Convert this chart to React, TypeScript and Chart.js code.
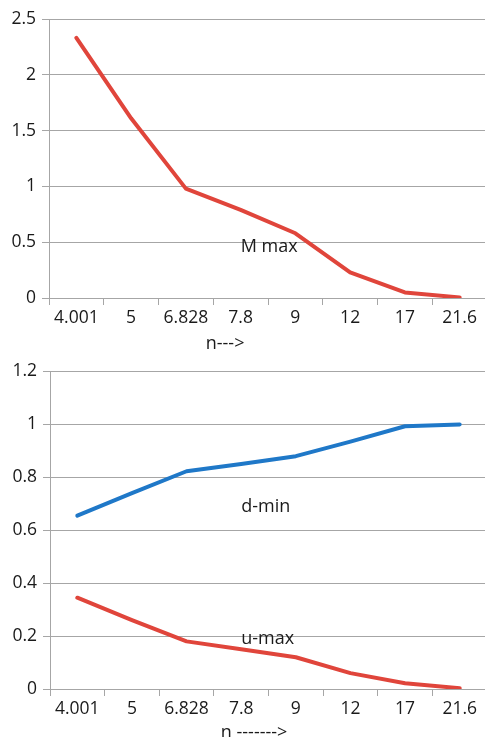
import React, { useEffect, useRef } from "react";
import { Chart, registerables } from "chart.js";

Chart.register(...registerables);

const categories = ["4.001", "5", "6.828", "7.8", "9", "12", "17", "21.6"];
const mMax = [2.33, 1.61, 0.98, 0.79, 0.58, 0.23, 0.05, 0.005];
const dMin = [0.655, 0.74, 0.823, 0.85, 0.88, 0.935, 0.993, 1.0];
const uMax = [0.345, 0.26, 0.18, 0.15, 0.12, 0.06, 0.022, 0.003];
const topTicks = [0, 0.5, 1, 1.5, 2, 2.5];
const bottomTicks = [0, 0.2, 0.4, 0.6, 0.8, 1, 1.2];

const FONT = '"Open Sans", "DejaVu Sans", sans-serif';
const GRID = "#a6a6a6";
const TEXT = "#1a1a1a";
const RED = "#e0453b";
const BLUE = "#1f78c8";

type Note = { text: string; xi: number; yv: number };
type Title = { text: string; frac: number; dy: number };

function textPlugin(notes: Note[], title: Title) {
  return {
    id: "texts",
    afterDraw(chart: any) {
      const { ctx, chartArea } = chart;
      const x = chart.scales.x;
      const y = chart.scales.y;
      ctx.save();
      ctx.font = `18px ${FONT}`;
      ctx.fillStyle = TEXT;
      ctx.textBaseline = "middle";
      ctx.textAlign = "left";
      notes.forEach((n) => {
        ctx.fillText(n.text, x.getPixelForValue(n.xi), y.getPixelForValue(n.yv));
      });
      ctx.textAlign = "center";
      ctx.fillText(
        title.text,
        chartArea.left + title.frac * (chartArea.right - chartArea.left),
        chartArea.bottom + title.dy
      );
      ctx.restore();
    },
  };
}

function makeOptions(ticks: number[], yWidth: number, xHeight: number, padTop: number, padRight: number) {
  return {
    responsive: false,
    animation: false as const,
    layout: { padding: { top: padTop, right: padRight, left: 0, bottom: 0 } },
    plugins: { legend: { display: false }, tooltip: { enabled: false }, title: { display: false } },
    scales: {
      x: {
        type: "category" as const,
        offset: true,
        grid: { offset: true, drawOnChartArea: false, drawTicks: true, tickLength: 7, color: GRID },
        border: { display: true, color: GRID },
        ticks: { color: TEXT, font: { family: FONT, size: 17.5 }, padding: 3, maxRotation: 0, autoSkip: false },
        afterFit: (s: any) => {
          s.height = xHeight;
        },
      },
      y: {
        min: ticks[0],
        max: ticks[ticks.length - 1],
        grid: { color: GRID, tickLength: 7, drawTicks: true },
        border: { display: true, color: GRID },
        ticks: {
          stepSize: ticks[1] - ticks[0],
          color: TEXT,
          font: { family: FONT, size: 17.5 },
          padding: 6,
          callback: (v: any) => String(Number(Number(v).toFixed(3))),
        },
        afterFit: (s: any) => {
          s.width = yWidth;
        },
      },
    },
  };
}

function ds(data: number[], color: string) {
  return {
    data,
    borderColor: color,
    backgroundColor: color,
    borderWidth: 4,
    pointRadius: 0,
    tension: 0,
    borderCapStyle: "round" as const,
    borderJoinStyle: "round" as const,
  };
}

export default function App() {
  const topRef = useRef<HTMLCanvasElement>(null);
  const botRef = useRef<HTMLCanvasElement>(null);

  useEffect(() => {
    const c1 = new Chart(topRef.current!, {
      type: "line",
      data: { labels: categories, datasets: [ds(mMax, RED)] },
      options: makeOptions(topTicks, 49, 57, 19, 13) as any,
      plugins: [textPlugin([{ text: "M max", xi: 3, yv: 0.46 }], { text: "n--->", frac: 0.402, dy: 46 })],
    });
    const c2 = new Chart(botRef.current!, {
      type: "line",
      data: { labels: categories, datasets: [ds(dMin, BLUE), ds(uMax, RED)] },
      options: makeOptions(bottomTicks, 50, 48, 15, 13) as any,
      plugins: [
        textPlugin(
          [
            { text: "d-min", xi: 3, yv: 0.69 },
            { text: "u-max", xi: 3, yv: 0.19 },
          ],
          { text: "n ------->", frac: 0.467, dy: 44 }
        ),
      ],
    });
    return () => {
      c1.destroy();
      c2.destroy();
    };
  }, []);

  return (
    <div
      style={{
        position: "absolute",
        left: 0,
        top: 0,
        width: 485,
        height: 737,
        overflow: "hidden",
        background: "#fff",
      }}
    >
      <canvas ref={topRef} width={500} height={355} style={{ position: "absolute", left: 0, top: 0 }} />
      <canvas ref={botRef} width={500} height={382} style={{ position: "absolute", left: 0, top: 355 }} />
    </div>
  );
}
